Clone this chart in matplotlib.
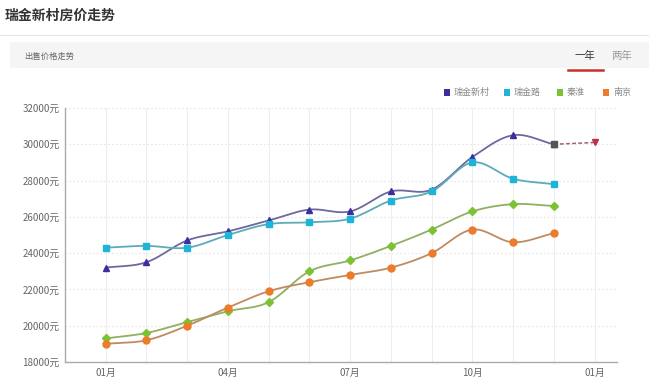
import numpy as np
import matplotlib
matplotlib.use("Agg")
import matplotlib.pyplot as plt
from matplotlib.patches import Rectangle
from matplotlib.lines import Line2D

plt.rcParams['font.family'] = ['Noto Sans CJK SC', 'DejaVu Sans']

# ---------------- data ----------------
months = ["01月", "02月", "03月", "04月", "05月", "06月", "07月", "08月", "09月", "10月", "11月", "12月"]
tick_labels = ["01月", "04月", "07月", "10月", "01月"]
series_names = ["瑞金新村", "瑞金路", "秦淮", "南京"]
ruijin_xincun = [23200, 23500, 24700, 25200, 25800, 26400, 26300, 27400, 27500, 29300, 30500, 30000]
ruijin_lu = [24300, 24400, 24300, 25000, 25600, 25700, 25900, 26900, 27400, 29000, 28100, 27800]
qinhuai = [19300, 19600, 20200, 20800, 21300, 23000, 23600, 24400, 25300, 26300, 26700, 26600]
nanjing = [19000, 19200, 20000, 21000, 21900, 22400, 22800, 23200, 24000, 25300, 24600, 25100]
forecast = [30000, 30100]   # 12月 -> next 01月 (瑞金新村 forecast)
y_ticks = [18000, 20000, 22000, 24000, 26000, 28000, 30000, 32000]

W, H = 649, 387
fig = plt.figure(figsize=(W / 100, H / 100), dpi=100)
fig.patch.set_facecolor("white")

def fx(px):
    return px / W

def fy(py):
    return 1 - py / H

# ---------------- header ----------------
fig.text(fx(5), fy(16), "瑞金新村房价走势", fontsize=10, fontweight="bold",
         color="#333333", va="center", ha="left")
fig.add_artist(Line2D([fx(0), fx(649)], [fy(35), fy(35)], color="#e6e6e6", lw=0.8))
fig.add_artist(Rectangle((fx(10), fy(68)), fx(639), (68 - 42) / H, facecolor="#f5f5f5",
                         edgecolor="none"))
fig.text(fx(24), fy(56), "出售价格走势", fontsize=6, color="#666666", va="center", ha="left")
fig.text(fx(585), fy(56), "一年", fontsize=7.5, color="#333333", va="center", ha="center")
fig.text(fx(622), fy(56), "两年", fontsize=7.5, color="#999999", va="center", ha="center")
fig.add_artist(Line2D([fx(568), fx(603)], [fy(70), fy(70)], color="#c9302c", lw=1.8))

# ---------------- axes ----------------
left, right, top, bottom = 65, 617, 108, 362
ax = fig.add_axes([fx(left), fy(bottom), (right - left) / W, (bottom - top) / H])
ax.set_xlim(-1.0, 12.55)
ax.set_ylim(18000, 32000)

for s in ["top", "right"]:
    ax.spines[s].set_visible(False)
for s in ["left", "bottom"]:
    ax.spines[s].set_color("#aaaaaa")
    ax.spines[s].set_linewidth(1.0)

ax.set_yticks(y_ticks)
ax.set_yticklabels([f"{v}元" for v in y_ticks], fontsize=7, color="#666666")
ax.set_xticks([0, 3, 6, 9, 12])
ax.set_xticklabels(tick_labels, fontsize=7, color="#666666")
ax.tick_params(axis="both", length=0, pad=4)

for m in range(13):
    ax.axvline(m, color="#eeeeee", lw=0.8, zorder=0)
for v in y_ticks[1:]:
    ax.axhline(v, color="#e6e6e6", lw=0.8, ls=(0, (1.5, 2)), zorder=0)

def smooth(xs, ys, n=20):
    xs = np.asarray(xs, float)
    ys = np.asarray(ys, float)
    m = np.zeros_like(ys)
    m[1:-1] = (ys[2:] - ys[:-2]) / (xs[2:] - xs[:-2])
    m[0] = (ys[1] - ys[0]) / (xs[1] - xs[0])
    m[-1] = (ys[-1] - ys[-2]) / (xs[-1] - xs[-2])
    ox, oy = [], []
    for i in range(len(xs) - 1):
        h = xs[i + 1] - xs[i]
        t = np.linspace(0, 1, n, endpoint=False)
        h00 = 2 * t**3 - 3 * t**2 + 1
        h10 = t**3 - 2 * t**2 + t
        h01 = -2 * t**3 + 3 * t**2
        h11 = t**3 - t**2
        ox.extend(xs[i] + t * h)
        oy.extend(h00 * ys[i] + h10 * h * m[i] + h01 * ys[i + 1] + h11 * h * m[i + 1])
    ox.append(xs[-1]); oy.append(ys[-1])
    return np.array(ox), np.array(oy)

x = np.arange(len(months))
data = [ruijin_xincun, ruijin_lu, qinhuai, nanjing]
marker_colors = ["#3b2e9e", "#1db4d8", "#7cc232", "#ec7b2b"]
line_colors = ["#6e68a0", "#5eaab8", "#8fb060", "#c08a60"]
markers = ["^", "s", "D", "o"]
msizes = [4.8, 5, 3.8, 5]

for vals, mc, lc, mk, ms in zip(data, marker_colors, line_colors, markers, msizes):
    sx, sy = smooth(x, vals)
    ax.plot(sx, sy, color=lc, lw=1.3, zorder=3)
    ax.plot(x, vals, ls="none", marker=mk, ms=ms, color=mc, mec=mc, zorder=4)

# forecast segment
ax.plot([11, 12], forecast, color="#a06070", lw=1.1, ls=(0, (2.5, 1.5)), zorder=3)
ax.plot([11], [forecast[0]], ls="none", marker="s", ms=4.6, color="#555555", zorder=5)
ax.plot([12], [forecast[1]], ls="none", marker="v", ms=4.2, color="#c0304a", zorder=5)

# ---------------- legend ----------------
leg_x = [447, 507, 560, 606]
for lx, name, c in zip(leg_x, series_names, marker_colors):
    fig.add_artist(Rectangle((fx(lx - 3), fy(95.5)), 6 / W, 6 / H, facecolor=c, edgecolor="none"))
    fig.text(fx(lx + 7), fy(92.5), name, fontsize=6.5, color="#888888", va="center", ha="left")

fig.savefig("out.png", dpi=100, facecolor="white")
